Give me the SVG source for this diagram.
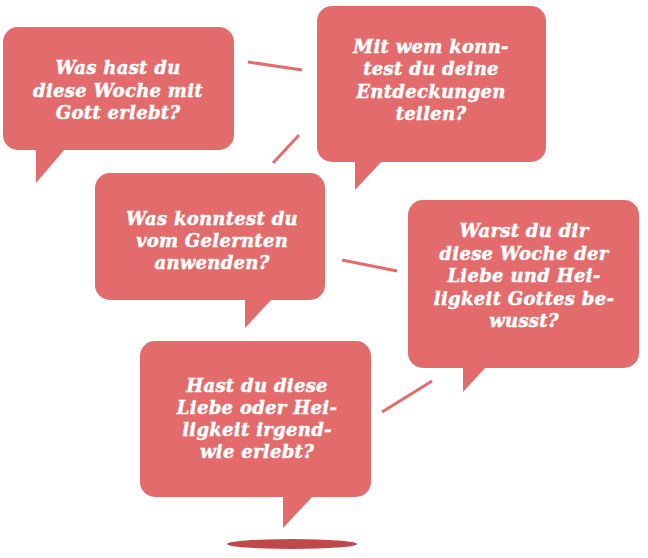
<svg xmlns="http://www.w3.org/2000/svg" width="648" height="558" viewBox="0 0 648 558">
<style>
.b{fill:#E36B6B}
.t{fill:#fff;stroke:#fff;stroke-width:0.5;font-family:"DejaVu Serif",serif;font-weight:bold;font-style:italic;font-size:18px;letter-spacing:0.3px;text-anchor:middle}
.c line{stroke:#E36B6B;stroke-width:3;stroke-linecap:butt}
</style>
<rect width="648" height="558" fill="#fff"/>
<g class="c" id="connectors">
<line x1="248" y1="62" x2="302" y2="70"/>
<line x1="273" y1="163" x2="299" y2="135"/>
<line x1="342" y1="260" x2="397" y2="271"/>
<line x1="382" y1="412" x2="432" y2="381"/>
</g>
<g id="n1">
<rect class="b" x="3" y="27" width="231" height="123" rx="15"/>
<polygon class="b" points="36,149 65,149 36,183"/>
<text class="t"><tspan x="118" y="74">Was hast du</tspan><tspan x="118" y="97">diese Woche mit</tspan><tspan x="118" y="119">Gott erlebt?</tspan></text>
</g>
<g id="n2">
<rect class="b" x="317" y="6" width="229" height="156" rx="15"/>
<polygon class="b" points="355,161 382,161 355,190"/>
<text class="t"><tspan x="431" y="53">Mit wem konn-</tspan><tspan x="431" y="75">test du deine</tspan><tspan x="431" y="98">Entdeckungen</tspan><tspan x="431" y="120">teilen?</tspan></text>
</g>
<g id="n3">
<rect class="b" x="95" y="173" width="230" height="127" rx="15"/>
<polygon class="b" points="245,299 272,299 245,328"/>
<text class="t"><tspan x="212" y="225">Was konntest du</tspan><tspan x="212" y="247">vom Gelernten</tspan><tspan x="212" y="269">anwenden?</tspan></text>
</g>
<g id="n4">
<rect class="b" x="408" y="200" width="231" height="168" rx="15"/>
<polygon class="b" points="463,367 486,367 463,392"/>
<text class="t"><tspan x="524" y="237">Warst du dir</tspan><tspan x="524" y="260">diese Woche der</tspan><tspan x="524" y="282">Liebe und Hei-</tspan><tspan x="524" y="305">ligkeit Gottes be-</tspan><tspan x="524" y="327">wusst?</tspan></text>
</g>
<g id="n5">
<rect class="b" x="140" y="341" width="231" height="156" rx="15"/>
<polygon class="b" points="283,496 313,496 283,528"/>
<text class="t"><tspan x="257" y="392">Hast du diese</tspan><tspan x="257" y="414">Liebe oder Hei-</tspan><tspan x="257" y="436">ligkeit irgend-</tspan><tspan x="257" y="458">wie erlebt?</tspan></text>
</g>
<ellipse cx="292" cy="544" rx="65" ry="5" fill="#C0474A"/>
</svg>
